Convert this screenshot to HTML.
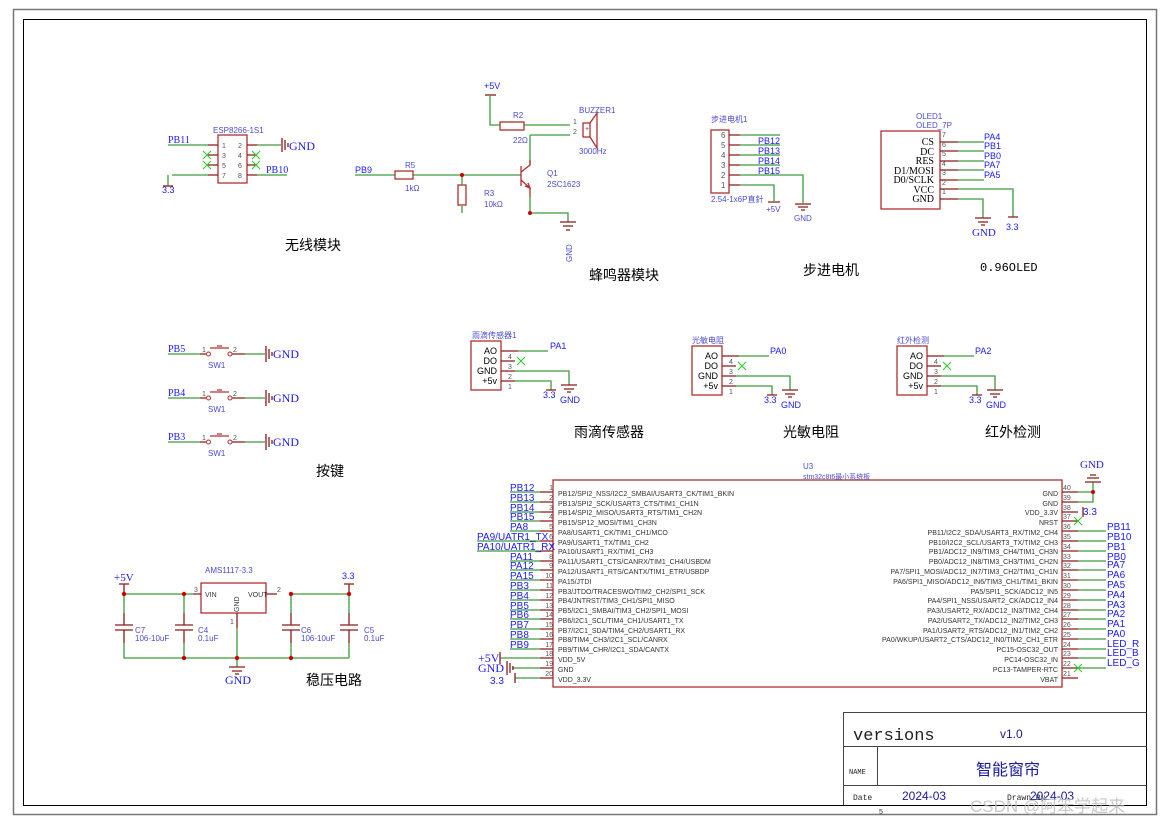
<!DOCTYPE html>
<html><head><meta charset="utf-8"><style>
body{margin:0;background:#fff}
svg{display:block}
.w{stroke:#3c9a3c;stroke-width:1.3;fill:none}
.p{stroke:#8b1a1a;stroke-width:1.3;fill:none}
.b{stroke:#b03030;stroke-width:1.3;fill:none}
.n{fill:#1a1aff;font-family:"Liberation Sans",sans-serif;font-size:10px}
.ns{fill:#1a1aff;font-family:"Liberation Serif",serif;font-size:10px}
.c{fill:#4a4ad8;font-family:"Liberation Sans","Noto Sans CJK SC",sans-serif;font-size:8px}
.t{fill:#333;font-family:"Liberation Sans",sans-serif;font-size:7px}
.pn{fill:#555;font-family:"Liberation Sans",sans-serif;font-size:7px}
.h{fill:#000;font-family:"Liberation Sans","Noto Sans CJK SC",sans-serif;font-size:14px}
.x{stroke:#2c2;stroke-width:1}
.j{fill:#c00}
.g{stroke:#8b1a1a;stroke-width:1.3}
</style></head><body>
<svg width="1170" height="825" viewBox="0 0 1170 825" xmlns="http://www.w3.org/2000/svg">
<rect x="13.5" y="9.5" width="1143" height="805" fill="none" stroke="#777" stroke-width="1.5"/>
<rect x="23.5" y="19.5" width="1123" height="786" fill="none" stroke="#000" stroke-width="1"/>

<!-- ESP8266 -->
<text class="c" x="213" y="133">ESP8266-1S1</text>
<rect class="b" x="218" y="135" width="29" height="48"/>
<text class="pn" x="222" y="148">1</text><text class="pn" x="238" y="148">2</text>
<text class="pn" x="222" y="158">3</text><text class="pn" x="238" y="158">4</text>
<text class="pn" x="222" y="168">5</text><text class="pn" x="238" y="168">6</text>
<text class="pn" x="222" y="178">7</text><text class="pn" x="238" y="178">8</text>
<path class="w" d="M168 145H208M168 175V186M172 175H208M257 145H281M257 175H287"/>
<path class="p" d="M208 145H218M208 175H218M247 145H257M247 175H257M208 155H218M208 165H218M247 155H257M247 165H257"/>
<path class="x" d="M203 151l8 8M211 151l-8 8M203 161l8 8M211 161l-8 8M252 151l8 8M260 151l-8 8M252 161l8 8M260 161l-8 8"/>
<path class="g" d="M282 138V152M285 140V150M288 143V147"/>
<text class="ns" x="168" y="143">PB11</text><text class="ns" x="289" y="150" style="font-size:12px">GND</text>
<text class="n" x="162" y="193" style="font-size:9px">3.3</text><path class="g" d="M163 186H173"/>
<text class="ns" x="266" y="173">PB10</text>
<text class="h" x="285" y="250">无线模块</text>

<!-- Buzzer -->
<text class="n" x="484" y="89" style="font-size:9px">+5V</text>
<path class="g" d="M485 95H496"/>
<path class="w" d="M490 95V125H500M524 125H570M530 135H570M530 135V165M530 197V213H568V222M462 206V213M413 175H521M355 175H395"/>
<rect class="b" x="500" y="122" width="24" height="8"/>
<rect class="b" x="583" y="123" width="7" height="14"/>
<path class="b" d="M590 123L597 113V148L590 137"/>
<text class="pn" x="573" y="124">1</text><text class="pn" x="573" y="134">2</text><text class="pn" x="585" y="131">+</text>
<text class="c" x="579" y="113">BUZZER1</text><text class="c" x="579" y="154">3000Hz</text>
<text class="c" x="513" y="118">R2</text><text class="c" x="513" y="143">22Ω</text>
<rect class="b" x="395" y="171" width="18" height="8"/>
<rect class="b" x="458" y="185" width="8" height="20"/>
<path class="w" d="M462 175V185"/>
<path class="b" d="M521 166V186M521 172L530 165V160M521 180L530 188V197"/>
<path class="b" d="M525 186l5 2-2-5"/>
<circle class="j" cx="462" cy="175" r="2"/><circle class="j" cx="530" cy="213" r="2"/>
<path class="g" d="M560 222H576M563 226H573M566 230H570"/>
<text class="c" x="0" y="0" transform="translate(572,262) rotate(-90)">GND</text>
<text class="n" x="355" y="173" style="font-size:9px">PB9</text>
<text class="c" x="405" y="168">R5</text><text class="c" x="405" y="191">1kΩ</text>
<text class="c" x="484" y="196">R3</text><text class="c" x="484" y="207">10kΩ</text>
<text class="c" x="547" y="176">Q1</text><text class="c" x="547" y="187">2SC1623</text>
<text class="h" x="589" y="280">蜂鸣器模块</text>

<!-- Stepper -->
<text class="c" x="711" y="122">步进电机1</text>
<rect class="b" x="711" y="130" width="18" height="63"/>
<text class="pn" x="721" y="138" style="font-size:8px">6</text><text class="pn" x="721" y="148" style="font-size:8px">5</text><text class="pn" x="721" y="158" style="font-size:8px">4</text><text class="pn" x="721" y="168" style="font-size:8px">3</text><text class="pn" x="721" y="178" style="font-size:8px">2</text><text class="pn" x="721" y="188" style="font-size:8px">1</text>
<path class="p" d="M729 135H740M729 145H740M729 155H740M729 165H740M729 175H740M729 185H740"/>
<path class="w" d="M740 135H780M740 145H780M740 155H780M740 165H780M740 175H803V203M740 185H774V201"/>
<text class="n" x="758" y="144" style="font-size:9px">PB12</text><text class="n" x="758" y="154" style="font-size:9px">PB13</text><text class="n" x="758" y="164" style="font-size:9px">PB14</text><text class="n" x="758" y="174" style="font-size:9px">PB15</text>
<path class="g" d="M768 202H780M795 204H811M798 207H808M801 210H805"/>
<text class="c" x="766" y="212">+5V</text><text class="c" x="794" y="221">GND</text>
<text class="c" x="711" y="202">2.54-1x6P直針</text>
<text class="h" x="803" y="275">步进电机</text>

<!-- OLED -->
<text class="c" x="916" y="119">OLED1</text><text class="c" x="916" y="128">OLED_7P</text>
<rect class="b" x="881" y="131" width="59" height="78"/>
<g style="font-family:'Liberation Serif',serif;font-size:10px;fill:#000" text-anchor="end">
<text x="934" y="145">CS</text><text x="934" y="155">DC</text><text x="934" y="164">RES</text><text x="934" y="174">D1/MOSI</text><text x="934" y="183">D0/SCLK</text><text x="934" y="193">VCC</text><text x="934" y="202">GND</text></g>
<path class="p" d="M940 142H958M940 151H958M940 161H958M940 170H958M940 180H958M940 189H958M940 199H958"/>
<path class="w" d="M958 142H984M958 151H984M958 161H984M958 170H984M958 180H984M958 189H1013V217M958 199H983V218"/>
<g class="pn"><text x="942" y="137">7</text><text x="942" y="147">6</text><text x="942" y="156">5</text><text x="942" y="166">4</text><text x="942" y="175">3</text><text x="942" y="185">2</text><text x="942" y="194">1</text></g>
<g class="n" style="font-size:9px"><text x="984" y="140">PA4</text><text x="984" y="149">PB1</text><text x="984" y="159">PB0</text><text x="984" y="168">PA7</text><text x="984" y="178">PA5</text></g>
<path class="g" d="M975 218H991M978 222H988M981 225H985M1008 217H1018"/>
<text class="ns" x="972" y="236" style="font-size:11px">GND</text><text class="n" x="1006" y="230" style="font-size:9px">3.3</text>
<text x="980" y="271" style="font-family:'Liberation Mono',monospace;font-size:12px">0.96OLED</text>

<!-- Buttons -->
<g>
<path class="w" d="M168 354H200M245 354H265M168 398H200M245 398H265M168 442H200M245 442H265"/>
<path class="p" d="M200 354H206M232 354H245M200 398H206M232 398H245M200 442H206M232 442H245"/>
<path class="b" d="M210 348H229M217 346H222M210 392H229M217 390H222M210 436H229M217 434H222"/>
<circle cx="208.5" cy="354" r="2" fill="none" stroke="#b03030"/><circle cx="230" cy="354" r="2" fill="none" stroke="#b03030"/>
<circle cx="208.5" cy="398" r="2" fill="none" stroke="#b03030"/><circle cx="230" cy="398" r="2" fill="none" stroke="#b03030"/>
<circle cx="208.5" cy="442" r="2" fill="none" stroke="#b03030"/><circle cx="230" cy="442" r="2" fill="none" stroke="#b03030"/>
<path class="g" d="M266 346V362M269 349V359M272 352V356M266 390V406M269 393V403M272 396V400M266 434V450M269 437V447M272 440V444"/>
<text class="ns" x="168" y="352">PB5</text><text class="ns" x="168" y="396">PB4</text><text class="ns" x="168" y="440">PB3</text>
<text class="ns" x="273" y="358" style="font-size:12px">GND</text><text class="ns" x="273" y="402" style="font-size:12px">GND</text><text class="ns" x="273" y="446" style="font-size:12px">GND</text>
<text class="c" x="208" y="368">SW1</text><text class="c" x="208" y="412">SW1</text><text class="c" x="208" y="456">SW1</text>
<g class="pn"><text x="202" y="352">1</text><text x="233" y="352">2</text><text x="202" y="396">1</text><text x="233" y="396">2</text><text x="202" y="440">1</text><text x="233" y="440">2</text></g>
</g>
<text class="h" x="316" y="476">按键</text>

<!-- Sensors -->
<g id="s1">
<rect class="b" x="471" y="341" width="30" height="49"/>
<g style="font-family:'Liberation Sans',sans-serif;font-size:9px;fill:#000" text-anchor="end"><text x="497" y="354">AO</text><text x="497" y="364">DO</text><text x="497" y="374">GND</text><text x="497" y="384">+5v</text></g>
<path class="p" d="M501 351H518M501 361H515M501 371H515M501 381H515"/>
<path class="w" d="M518 351H548M515 371H569V385M515 381H551V390"/>
<path class="x" d="M517 357l8 8M525 357l-8 8"/>
<g class="pn"><text x="508" y="359">4</text><text x="508" y="369">3</text><text x="508" y="379">2</text><text x="508" y="389">1</text></g>
<path class="g" d="M546 390H556M561 385H577M564 389H574M567 392H571"/>
<text class="n" x="543" y="398" style="font-size:9px">3.3</text><text class="n" x="560" y="403" style="font-size:9px">GND</text>
</g>
<text class="n" x="550" y="349" style="font-size:9px">PA1</text>
<text class="c" x="472" y="338">雨滴传感器1</text>
<use href="#s1" x="221" y="5"/>
<text class="n" x="770" y="354" style="font-size:9px">PA0</text>
<text class="c" x="692" y="343">光敏电阻</text>
<use href="#s1" x="426" y="5"/>
<text class="n" x="975" y="354" style="font-size:9px">PA2</text>
<text class="c" x="897" y="343">红外检测</text>
<text class="h" x="574" y="437">雨滴传感器</text>
<text class="h" x="783" y="437">光敏电阻</text>
<text class="h" x="985" y="437">红外检测</text>

<!-- Regulator -->
<text class="c" x="205" y="573">AMS1117-3.3</text>
<rect class="b" x="201" y="583" width="65" height="30"/>
<text class="t" x="205" y="597">VIN</text><text class="t" x="248" y="597">VOUT</text>
<text class="t" x="0" y="0" transform="translate(239,612) rotate(-90)">GND</text>
<text class="pn" x="194" y="592">3</text><text class="pn" x="277" y="592">2</text><text class="pn" x="230" y="624">1</text>
<path class="w" d="M124 594H193M124 594V613M184 594V613M124 643V658H349M184 643V658M291 594H349M291 594V613M349 594V613M291 643V658M349 643V658M237 628V667"/>
<path class="p" d="M193 594H201M266 594H277M237 613V628M124 613V625M124 630V643M184 613V625M184 630V643M291 613V625M291 630V643M349 613V625M349 630V643"/>
<path class="g" d="M115 625H133M115 630H133M175 625H193M175 630H193M282 625H300M282 630H300M340 625H358M340 630H358M229 667H245M232 671H242M235 674H239M344 584H354M119 584H129"/>
<path class="g" d="M349 584V594M124 584V594"/>
<g class="j"><circle cx="124" cy="594" r="2.2"/><circle cx="184" cy="594" r="2.2"/><circle cx="291" cy="594" r="2.2"/><circle cx="349" cy="594" r="2.2"/><circle cx="184" cy="658" r="2.2"/><circle cx="237" cy="658" r="2.2"/><circle cx="291" cy="658" r="2.2"/></g>
<text class="ns" x="114" y="581" style="font-size:11px">+5V</text><text class="n" x="342" y="579" style="font-size:9px">3.3</text>
<text class="ns" x="225" y="684" style="font-size:12px">GND</text>
<text class="c" x="135" y="633">C7</text><text class="c" x="135" y="641">106-10uF</text>
<text class="c" x="198" y="633">C4</text><text class="c" x="198" y="641">0.1uF</text>
<text class="c" x="301" y="633">C6</text><text class="c" x="301" y="641">106-10uF</text>
<text class="c" x="364" y="633">C5</text><text class="c" x="364" y="641">0.1uF</text>
<text class="h" x="306" y="685">稳压电路</text>

<!-- MCU -->
<text class="c" x="803" y="469">U3</text><text class="c" x="803" y="479" style="font-size:7px">stm32c8t6最小系统板</text>
<rect class="b" x="553" y="480" width="509" height="207"/>
<path class="p" d="M540 492H553M540 502H553M540 512H553M540 521H553M540 531H553M540 541H553M540 551H553M540 561H553M540 570H553M540 580H553M540 590H553M540 600H553M540 610H553M540 619H553M540 629H553M540 639H553M540 649H553M540 658H553M540 668H553M540 678H553"/>
<path class="w" d="M510 492H540M510 502H540M510 512H540M510 521H540M510 531H540M477 541H540M477 551H540M510 561H540M510 570H540M510 580H540M510 590H540M510 600H540M510 610H540M510 619H540M510 629H540M510 639H540M510 649H540M500 658H540M512 668H540M515 678H540"/>
<g class="pn" text-anchor="end"><text x="553" y="490">1</text><text x="553" y="500">2</text><text x="553" y="510">3</text><text x="553" y="519">4</text><text x="553" y="529">5</text><text x="553" y="539">6</text><text x="553" y="549">7</text><text x="553" y="559">8</text><text x="553" y="568">9</text><text x="553" y="578">10</text><text x="553" y="588">11</text><text x="553" y="598">12</text><text x="553" y="608">13</text><text x="553" y="617">14</text><text x="553" y="627">15</text><text x="553" y="637">16</text><text x="553" y="647">17</text><text x="553" y="656">18</text><text x="553" y="666">19</text><text x="553" y="676">20</text></g>
<g class="t">
<text x="558" y="496">PB12/SPI2_NSS/I2C2_SMBAI/USART3_CK/TIM1_BKIN</text>
<text x="558" y="506">PB13/SPI2_SCK/USART3_CTS/TIM1_CH1N</text>
<text x="558" y="515">PB14/SPI2_MISO/USART3_RTS/TIM1_CH2N</text>
<text x="558" y="525">PB15/SP12_MOSI/TIM1_CH3N</text>
<text x="558" y="535">PA8/USART1_CK/TIM1_CH1/MCO</text>
<text x="558" y="545">PA9/USART1_TX/TIM1_CH2</text>
<text x="558" y="554">PA10/USART1_RX/TIM1_CH3</text>
<text x="558" y="564">PA11/USART1_CTS/CANRX/TIM1_CH4/USBDM</text>
<text x="558" y="574">PA12/USART1_RTS/CANTX/TIM1_ETR/USBDP</text>
<text x="558" y="584">PA15/JTDI</text>
<text x="558" y="594">PB3/JTDO/TRACESWO/TIM2_CH2/SPI1_SCK</text>
<text x="558" y="603">PB4/JNTRST/TIM3_CH1/SPI1_MISO</text>
<text x="558" y="613">PB5/I2C1_SMBAI/TIM3_CH2/SPI1_MOSI</text>
<text x="558" y="623">PB6/I2C1_SCL/TIM4_CH1/USART1_TX</text>
<text x="558" y="633">PB7/I2C1_SDA/TIM4_CH2/USART1_RX</text>
<text x="558" y="642">PB8/TIM4_CH3/I2C1_SCL/CANRX</text>
<text x="558" y="652">PB9/TIM4_CHR/I2C1_SDA/CANTX</text>
<text x="558" y="662">VDD_5V</text>
<text x="558" y="672">GND</text>
<text x="558" y="682">VDD_3.3V</text>
</g>
<g class="n" style="font-size:10px">
<text x="510" y="491">PB12</text><text x="510" y="501">PB13</text><text x="510" y="511">PB14</text><text x="510" y="520">PB15</text><text x="510" y="530">PA8</text><text x="477" y="540">PA9/UATR1_TX</text><text x="477" y="550">PA10/UATR1_RX</text><text x="510" y="560">PA11</text><text x="510" y="569">PA12</text><text x="510" y="579">PA15</text><text x="510" y="589">PB3</text><text x="510" y="599">PB4</text><text x="510" y="609">PB5</text><text x="510" y="618">PB6</text><text x="510" y="628">PB7</text><text x="510" y="638">PB8</text><text x="510" y="648">PB9</text>
</g>
<text class="ns" x="478" y="662" style="font-size:12px">+5V</text><text class="ns" x="478" y="672" style="font-size:12px">GND</text><text class="n" x="490" y="684" style="font-size:10px">3.3</text>
<path class="g" d="M500 652V664M507 661V675M510 663V673M513 666V670M515 673V683"/>
<path class="p" d="M1062 492H1078M1062 502H1078M1062 512H1078M1062 521H1078M1062 531H1078M1062 541H1078M1062 551H1078M1062 561H1078M1062 570H1078M1062 580H1078M1062 590H1078M1062 600H1078M1062 610H1078M1062 619H1078M1062 629H1078M1062 639H1078M1062 649H1078M1062 658H1078M1062 668H1078M1062 678H1078"/>
<path class="w" d="M1078 492H1093V502H1078M1093 492V482M1078 531H1106M1078 541H1106M1078 551H1106M1078 561H1106M1078 570H1106M1078 580H1106M1078 590H1106M1078 600H1106M1078 610H1106M1078 619H1106M1078 629H1106M1078 639H1106M1078 649H1106M1078 658H1106M1078 668H1106"/>
<circle class="j" cx="1093" cy="492" r="2"/>
<path class="g" d="M1085 482H1101M1087 478H1099M1090 475H1096M1083 507V517"/>
<path class="x" d="M1074 517l8 8M1082 517l-8 8M1074 664l8 8M1082 664l-8 8"/>
<text class="ns" x="1080" y="468" style="font-size:11px">GND</text><text class="n" x="1083" y="515" style="font-size:10px">3.3</text>
<g class="pn"><text x="1063" y="490">40</text><text x="1063" y="500">39</text><text x="1063" y="510">38</text><text x="1063" y="519">37</text><text x="1063" y="529">36</text><text x="1063" y="539">35</text><text x="1063" y="549">34</text><text x="1063" y="559">33</text><text x="1063" y="568">32</text><text x="1063" y="578">31</text><text x="1063" y="588">30</text><text x="1063" y="598">29</text><text x="1063" y="608">28</text><text x="1063" y="617">27</text><text x="1063" y="627">26</text><text x="1063" y="637">25</text><text x="1063" y="647">24</text><text x="1063" y="656">23</text><text x="1063" y="666">22</text><text x="1063" y="676">21</text></g>
<g class="t" text-anchor="end">
<text x="1058" y="496">GND</text><text x="1058" y="506">GND</text><text x="1058" y="515">VDD_3.3V</text><text x="1058" y="525">NRST</text>
<text x="1058" y="535">PB11/I2C2_SDA/USART3_RX/TIM2_CH4</text>
<text x="1058" y="545">PB10/I2C2_SCL/USART3_TX/TIM2_CH3</text>
<text x="1058" y="554">PB1/ADC12_IN9/TIM3_CH4/TIM1_CH3N</text>
<text x="1058" y="564">PB0/ADC12_IN8/TIM3_CH3/TIM1_CH2N</text>
<text x="1058" y="574">PA7/SPI1_MOSI/ADC12_IN7/TIM3_CH2/TIM1_CH1N</text>
<text x="1058" y="584">PA6/SPI1_MISO/ADC12_IN6/TIM3_CH1/TIM1_BKIN</text>
<text x="1058" y="594">PA5/SPI1_SCK/ADC12_IN5</text>
<text x="1058" y="603">PA4/SPI1_NSS/USART2_CK/ADC12_IN4</text>
<text x="1058" y="613">PA3/USART2_RX/ADC12_IN3/TIM2_CH4</text>
<text x="1058" y="623">PA2/USART2_TX/ADC12_IN2/TIM2_CH3</text>
<text x="1058" y="633">PA1/USART2_RTS/ADC12_IN1/TIM2_CH2</text>
<text x="1058" y="642">PA0/WKUP/USART2_CTS/ADC12_IN0/TIM2_CH1_ETR</text>
<text x="1058" y="652">PC15-OSC32_OUT</text><text x="1058" y="662">PC14-OSC32_IN</text><text x="1058" y="672">PC13-TAMPER-RTC</text><text x="1058" y="682">VBAT</text>
</g>
<g class="n" style="font-size:10px">
<text x="1107" y="530">PB11</text><text x="1107" y="540">PB10</text><text x="1107" y="550">PB1</text><text x="1107" y="560">PB0</text><text x="1107" y="568">PA7</text><text x="1107" y="578">PA6</text><text x="1107" y="588">PA5</text><text x="1107" y="598">PA4</text><text x="1107" y="608">PA3</text><text x="1107" y="617">PA2</text><text x="1107" y="627">PA1</text><text x="1107" y="637">PA0</text><text x="1107" y="647">LED_R</text><text x="1107" y="656">LED_B</text><text x="1107" y="666">LED_G</text>
</g>

<!-- Title block -->
<path d="M843.5 805V712.5H1146.5M843.5 746.5H1146.5M843.5 785.5H1146.5M877.5 746.5V785.5" fill="none" stroke="#444" stroke-width="1"/>
<text x="853" y="740" style="font-family:'Liberation Mono',monospace;font-size:17px;fill:#222">versions</text>
<text x="1000" y="738" style="font-family:'Liberation Sans',sans-serif;font-size:12px;fill:#1a1a9a">v1.0</text>
<text x="849" y="774" style="font-family:'Liberation Mono',monospace;font-size:7px;fill:#222">NAME</text>
<text x="976" y="775" style="font-family:'Liberation Sans','Noto Sans CJK SC',sans-serif;font-size:16px;fill:#1a1a9a">智能窗帘</text>
<text x="853" y="800" style="font-family:'Liberation Mono',monospace;font-size:8px;fill:#222">Date</text>
<text x="902" y="800" style="font-family:'Liberation Sans',sans-serif;font-size:12px;fill:#1a1a9a">2024-03</text>
<text x="1007" y="800" style="font-family:'Liberation Mono',monospace;font-size:8px;fill:#222">Drawn By</text>
<text x="1030" y="800" style="font-family:'Liberation Sans',sans-serif;font-size:12px;fill:#1a1a9a">2024-03</text>
<text x="879" y="814" style="font-family:'Liberation Sans',sans-serif;font-size:7px;fill:#333">5</text>
<text x="970" y="812" style="font-family:'Liberation Sans','Noto Sans CJK SC',sans-serif;font-size:17px;fill:#bbb;opacity:0.8">CSDN @阿笨学起来</text>
</svg>
</body></html>
